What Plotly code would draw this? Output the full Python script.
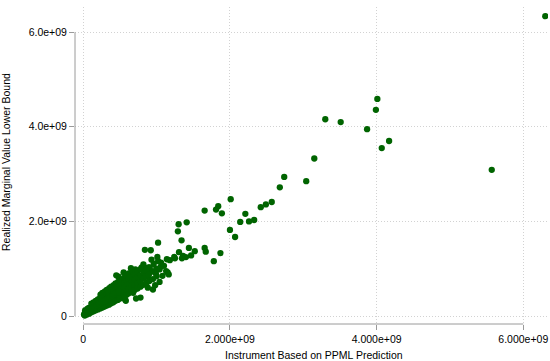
import plotly.graph_objects as go

# Values in units of 1e8 (x: instrument, y: realized marginal value lower bound)
SCALE = 1e8

# sparse / outlying observations
sparse_x = [63.0, 55.7, 40.1, 39.9, 33.0, 35.1, 38.7, 41.7, 40.7, 31.5, 27.4, 30.4, 26.8,
            25.7, 24.9, 24.2, 20.1, 23.3, 22.6, 21.4, 22.1, 20.0, 20.7, 18.4, 18.1, 18.9,
            16.55, 14.1, 13.0, 12.9, 13.4, 10.2, 8.4, 9.2, 16.55, 16.7, 18.7, 17.8, 14.4,
            15.2, 13.05, 13.6, 14.0, 14.7, 13.45, 12.5, 11.4, 11.8, 10.1, 9.3, 10.2, 11.3,
            11.65, 10.4, 10.55, 6.5, 7.1, 7.96, 8.9, 7.8, 6.8, 5.8, 8.8, 9.8, 4.8,
            12.4, 11.5, 9.1, 8.2, 9.0, 7.8, 10.4, 9.5, 6.8, 5.7, 7.2, 4.5, 5.5,
            9.6, 10.6, 11.0, 8.6, 9.9, 10.8]
sparse_y = [63.4, 30.9, 45.9, 43.6, 41.6, 41.0, 39.5, 37.0, 35.5, 33.3, 29.4, 28.5, 27.2,
            24.1, 23.6, 23.0, 24.7, 20.3, 20.0, 19.9, 21.6, 18.2, 16.7, 23.2, 22.5, 21.7,
            22.3, 19.8, 19.4, 17.9, 16.0, 15.5, 14.0, 13.9, 14.4, 13.6, 13.3, 11.6, 14.4,
            13.7, 13.5, 12.7, 12.45, 12.8, 12.2, 12.2, 12.0, 11.8, 12.5, 11.9, 11.6, 9.5,
            8.8, 9.85, 10.4, 10.1, 9.85, 10.3, 10.3, 3.9, 4.9, 3.2, 6.0, 6.5, 8.3,
            12.5, 9.2, 9.7, 10.9, 7.7, 7.0, 7.2, 5.6, 5.3, 3.5, 3.7, 8.6, 9.2,
            11.0, 11.3, 10.6, 10.0, 9.0, 8.5]

# dense cluster near the origin
dense_x = [0.2, 0.2, 0.25, 0.5, 0.45, 0.55, 0.8, 0.85, 0.75,
           1.1, 1.05, 1.15, 1.1, 1.4, 1.35, 1.45, 1.4,
           1.7, 1.75, 1.65, 1.7, 2.0, 1.95, 2.05, 2.0,
           2.3, 2.35, 2.25, 2.3, 2.35, 2.6, 2.55, 2.65, 2.6, 2.6,
           2.9, 2.95, 2.85, 2.9, 2.95, 3.2, 3.15, 3.25, 3.2, 3.2,
           3.5, 3.55, 3.45, 3.5, 3.55, 3.8, 3.75, 3.85, 3.8, 3.8,
           4.1, 4.15, 4.05, 4.1, 4.15, 4.4, 4.35, 4.45, 4.4, 4.4,
           4.7, 4.75, 4.65, 4.7, 4.75, 5.0, 4.95, 5.05, 5.0, 5.0,
           5.3, 5.35, 5.25, 5.3, 5.35, 5.6, 5.55, 5.65, 5.6, 5.6,
           5.9, 5.95, 5.85, 5.9, 5.95, 6.2, 6.15, 6.25, 6.2, 6.2,
           6.6, 6.55, 6.65, 6.6, 6.6, 7.0, 6.95, 7.05, 7.0,
           7.4, 7.35, 7.45, 7.4, 7.8, 7.75, 7.85, 7.8,
           8.2, 8.15, 8.25, 8.6, 8.55, 8.65, 9.0, 8.95, 9.05,
           9.5, 9.45, 10.0, 9.95, 0.1, 0.35, 0.65, 0.95, 1.25, 1.55, 1.85, 2.15,
           2.45, 2.75, 3.05, 3.35, 3.65, 3.95, 4.25, 4.55, 4.85]
dense_y = [0.1, 0.6, 1.2, 0.3, 0.9, 1.5, 0.5, 1.1, 1.7,
           0.8, 1.4, 2.0, 2.6, 1.0, 1.6, 2.2, 2.9,
           1.2, 1.8, 2.5, 3.2, 1.4, 2.1, 2.8, 3.5,
           1.6, 2.3, 3.0, 3.8, 4.5, 1.8, 2.6, 3.3, 4.1, 4.9,
           2.0, 2.8, 3.6, 4.4, 5.2, 2.2, 3.0, 3.9, 4.7, 5.5,
           2.4, 3.3, 4.1, 5.0, 5.9, 2.7, 3.5, 4.4, 5.3, 6.2,
           2.9, 3.8, 4.7, 5.6, 6.5, 3.2, 4.0, 5.0, 5.9, 6.9,
           3.4, 4.3, 5.2, 6.2, 7.2, 3.7, 4.6, 5.5, 6.5, 7.5,
           3.9, 4.9, 5.9, 6.8, 7.8, 4.2, 5.1, 6.1, 7.1, 8.1,
           4.5, 5.5, 6.5, 7.5, 8.5, 4.8, 5.8, 6.8, 7.9, 9.0,
           5.2, 6.2, 7.3, 8.3, 9.5, 5.5, 6.6, 7.7, 8.8,
           5.8, 7.0, 8.2, 9.3, 6.2, 7.4, 8.6, 9.9,
           6.6, 7.9, 9.1, 7.0, 8.4, 9.7, 7.4, 8.8, 10.3,
           7.8, 9.4, 8.4, 10.0, 0.3, 0.5, 0.9, 1.2, 1.5, 1.9, 2.2, 2.6,
           2.9, 3.1, 3.4, 3.7, 4.0, 4.3, 4.6, 4.9, 5.2]

x_vals = [v * SCALE for v in sparse_x + dense_x]
y_vals = [v * SCALE for v in sparse_y + dense_y]

x_ticks = [0, 2e9, 4e9, 6e9]
x_ticktext = ["0", "2.000e+09", "4.000e+09", "6.000e+09"]
y_ticks = [0, 2e9, 4e9, 6e9]
y_ticktext = ["0", "2.0e+09", "4.0e+09", "6.0e+09"]

x_title = "Instrument Based on PPML Prediction"
y_title = "Realized Marginal Value Lower Bound"

GREEN = "#006400"
AXIS = "#9a9a9a"
GRID = "#d2d2d2"
FONT = dict(family="Liberation Sans, Arial, Helvetica, sans-serif", size=10.5, color="#000000")

fig = go.Figure()
fig.add_trace(go.Scatter(
    x=x_vals, y=y_vals, mode="markers",
    marker=dict(color=GREEN, size=6.3, line=dict(width=0)),
    hoverinfo="skip", showlegend=False,
))

fig.update_layout(
    width=550, height=361,
    margin=dict(l=75, r=2, t=7, b=37),
    paper_bgcolor="white", plot_bgcolor="white",
    font=FONT,
    showlegend=False,
)
fig.update_xaxes(
    range=[-0.113e9, 6.337e9],
    tickmode="array", tickvals=x_ticks, ticktext=x_ticktext,
    ticks="outside", ticklen=5, tickcolor=AXIS, tickwidth=1,
    showline=False, zeroline=False,
    showgrid=True, gridcolor=GRID, griddash="1px,2px", gridwidth=1,
    tickfont=FONT,
)
fig.update_yaxes(
    range=[-0.169e9, 6.533e9],
    tickmode="array", tickvals=y_ticks, ticktext=y_ticktext,
    ticks="outside", ticklen=5, tickcolor=AXIS, tickwidth=1,
    showline=False, zeroline=False,
    showgrid=True, gridcolor=GRID, griddash="1px,2px", gridwidth=1,
    tickfont=FONT,
)

# Stata-style axis lines spanning only the labelled range
fig.add_shape(type="line", xref="paper", yref="y", x0=0, x1=0,
              y0=y_ticks[0], y1=y_ticks[-1], line=dict(color=AXIS, width=1))
fig.add_shape(type="line", xref="x", yref="paper", x0=x_ticks[0], x1=x_ticks[-1],
              y0=0, y1=0, line=dict(color=AXIS, width=1))

# axis titles
fig.add_annotation(text=x_title, xref="paper", yref="paper",
                   x=(314 - 75) / 473, y=(324 - 355) / 317,
                   xanchor="center", yanchor="middle", showarrow=False, font=FONT)
fig.add_annotation(text=y_title, xref="paper", yref="paper",
                   x=(6 - 75) / 473, y=(324 - 162) / 317, textangle=-90,
                   xanchor="center", yanchor="middle", showarrow=False, font=FONT)

fig.write_html("out.html")
